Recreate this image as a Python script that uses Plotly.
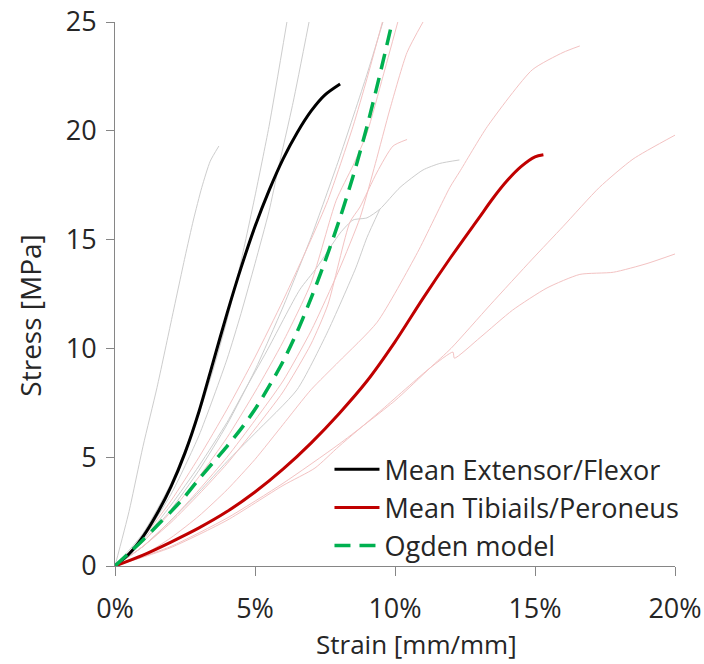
import plotly.graph_objects as go

# ---- Mean curves (strain in %, stress in MPa) ----
ext_strain = [0, 0.5, 1, 1.5, 2, 2.5, 3, 3.5, 4, 4.5, 5, 5.5, 6, 6.5, 7, 7.5, 8.04]
ext_stress = [0, 0.55, 1.35, 2.4, 3.65, 5.2, 7.1, 9.35, 11.6, 13.7, 15.6, 17.25, 18.7, 19.9, 20.9, 21.65, 22.15]

tib_strain = [0, 1, 2, 3, 4, 5, 6, 7, 8, 9, 10, 11, 12, 13, 13.5, 14, 14.5, 15, 15.3]
tib_stress = [0, 0.5, 1.1, 1.75, 2.5, 3.4, 4.45, 5.65, 7.0, 8.5, 10.3, 12.3, 14.2, 16.0, 16.9, 17.7, 18.35, 18.8, 18.9]

ogden_strain = [0, 0.5, 1, 1.5, 2, 2.5, 3, 3.5, 4, 4.5, 5, 5.5, 6, 6.5, 7, 7.5, 8, 8.5, 9, 9.5, 9.9]
ogden_stress = [0, 0.6, 1.2, 1.85, 2.5, 3.2, 4.0, 4.75, 5.5, 6.3, 7.2, 8.25, 9.4, 10.75, 12.3, 14.0, 15.85, 17.9, 20.2, 22.8, 25.0]

# ---- Individual specimens: Extensor/Flexor (grey) ----
g1_x = [0, 0.5, 1, 1.5, 2, 2.5, 2.8, 3.1, 3.4, 3.71]
g1_y = [0, 2.5, 5.5, 8.2, 11.2, 14.2, 15.9, 17.4, 18.6, 19.3]
g2_x = [0, 1, 2, 3, 3.5, 4, 4.5, 5, 5.5, 6.14]
g2_y = [0, 1.5, 3.8, 7.0, 9.0, 11.3, 14.0, 17.0, 20.2, 25.0]
g3_x = [0, 1, 2, 3, 4, 4.5, 5, 5.5, 5.82, 6.36, 6.93]
g3_y = [0, 1.3, 3.3, 6.0, 9.5, 11.6, 13.9, 16.3, 18.2, 21.3, 25.0]
g4_x = [0, 1, 2, 3, 4, 5, 6, 7, 8, 9, 9.57]
g4_y = [0, 1.1, 2.6, 4.4, 6.5, 9.0, 11.9, 15.1, 18.7, 22.6, 25.0]
g5_x = [0, 1, 2, 3, 4, 4.6, 5.43, 6.6, 7.2, 8.04, 8.5, 9.0, 9.46, 10.18, 11.0, 11.6, 12.3]
g5_y = [0, 1.2, 2.8, 4.6, 6.6, 8.0, 9.9, 12.7, 13.7, 15.3, 15.9, 16.0, 16.4, 17.4, 18.2, 18.5, 18.66]
g6_x = [0, 1, 2, 3, 4, 5, 6.5, 7.57, 8.6, 9.0, 9.46]
g6_y = [0, 0.9, 2.1, 3.4, 4.8, 6.1, 8.1, 10.7, 13.7, 15.1, 16.4]

# ---- Individual specimens: Tibialis/Peroneus (pink) ----
pa_x = [0, 2, 4, 6, 8, 10, 11.25, 12, 13.4, 14.9, 16, 17.3, 18.5, 20]
pa_y = [0, 0.9, 2.2, 3.8, 5.6, 7.6, 9.1, 10.0, 12.0, 14.1, 15.6, 17.4, 18.7, 19.8]
pb_x = [0, 2, 4, 6, 7.14, 8, 9.46, 11.25, 12.07, 12.12, 13.04, 14.2, 15.43, 16.6, 17.8, 19, 20]
pb_y = [0, 0.85, 2.1, 3.7, 4.5, 5.5, 7.1, 9.1, 9.83, 9.55, 10.5, 11.76, 12.78, 13.4, 13.5, 13.9, 14.34]
pc_x = [0, 1, 2, 3, 4, 5, 6, 7, 8, 9.36, 10.8, 11.96, 12.3, 13.3, 14.9, 16, 16.6]
pc_y = [0, 0.5, 1.3, 2.3, 3.5, 4.9, 6.5, 8.1, 9.4, 11.2, 14.4, 17.4, 18.1, 20.2, 22.8, 23.6, 23.9]
pd_x = [0, 1, 2, 3, 4, 5, 6, 7, 8, 8.75, 9.3, 9.82, 10.43, 11.0]
pd_y = [0, 0.9, 2.1, 3.5, 5.0, 6.7, 8.5, 10.8, 13.6, 16.0, 18.5, 21.0, 23.6, 25.0]
pe_x = [0, 1, 2, 3, 4, 5, 6, 7, 7.9, 8.5, 9.0, 9.57, 10.1]
pe_y = [0, 1.1, 2.5, 4.1, 5.9, 8.0, 10.3, 13.0, 16.8, 18.4, 19.9, 22.5, 25.0]
pf_x = [0, 1, 2, 3, 4, 5, 6, 7, 7.6, 8.39, 8.75, 9.36, 9.93, 10.43]
pf_y = [0, 0.9, 2.0, 3.3, 4.7, 6.3, 8.0, 10.2, 12.0, 15.8, 16.5, 18.1, 19.3, 19.6]
pg_x = [0, 1, 2, 3, 4, 5, 6, 7, 7.6, 8.5, 9.0, 9.55]
pg_y = [0, 1.3, 3.0, 5.0, 7.2, 9.6, 12.2, 15.0, 16.8, 20.2, 22.4, 25.0]

grey_specimens = [(g1_x, g1_y), (g2_x, g2_y), (g3_x, g3_y), (g4_x, g4_y), (g5_x, g5_y), (g6_x, g6_y)]
pink_specimens = [(pa_x, pa_y), (pb_x, pb_y), (pc_x, pc_y), (pd_x, pd_y), (pe_x, pe_y), (pf_x, pf_y), (pg_x, pg_y)]

x_ticks = [0, 5, 10, 15, 20]
y_ticks = [0, 5, 10, 15, 20, 25]

FONT = "Open Sans"
TXT = "#262626"
AXC = "#868686"
FS = 27

fig = go.Figure()
for xs, ys in grey_specimens:
    fig.add_trace(go.Scatter(x=xs, y=ys, mode="lines", showlegend=False, hoverinfo="skip",
                             line=dict(color="#cdcdcd", width=1, shape="spline", smoothing=0.6)))
for xs, ys in pink_specimens:
    fig.add_trace(go.Scatter(x=xs, y=ys, mode="lines", showlegend=False, hoverinfo="skip",
                             line=dict(color="#f3c2c2", width=1, shape="spline", smoothing=0.6)))

fig.add_trace(go.Scatter(x=ext_strain, y=ext_stress, mode="lines", name="Mean Extensor/Flexor",
                         line=dict(color="#000000", width=3, shape="spline", smoothing=0.8)))
fig.add_trace(go.Scatter(x=tib_strain, y=tib_stress, mode="lines", name="Mean Tibiails/Peroneus",
                         line=dict(color="#c00000", width=3, shape="spline", smoothing=0.8)))
fig.add_trace(go.Scatter(x=ogden_strain, y=ogden_stress, mode="lines", name="Ogden model",
                         line=dict(color="#00b050", width=3.5, dash="16px,9px", shape="spline", smoothing=0.8)))

fig.update_layout(
    width=704, height=664,
    margin=dict(l=115, r=29, t=22, b=98),
    paper_bgcolor="white", plot_bgcolor="white",
    font=dict(family=FONT, size=FS, color=TXT),
    legend=dict(x=0.383, y=0.222, xanchor="left", yanchor="top",
                bgcolor="rgba(0,0,0,0)", font=dict(family=FONT, size=FS, color=TXT),
                itemwidth=45, tracegroupgap=0),
    xaxis=dict(range=[0, 20], tickvals=x_ticks, ticktext=[f"{v}%" for v in x_ticks],
               showgrid=False, zeroline=False, showline=True, linecolor=AXC, linewidth=1,
               ticks="outside", ticklen=9, tickcolor=AXC, ticklabelstandoff=10,
               automargin=False, tickfont=dict(family=FONT, size=FS, color=TXT)),
    yaxis=dict(range=[0, 25], tickvals=y_ticks,
               showgrid=False, zeroline=False, showline=True, linecolor=AXC, linewidth=1,
               ticks="outside", ticklen=8, tickcolor=AXC, ticklabelstandoff=4,
               automargin=False, tickfont=dict(family=FONT, size=FS, color=TXT)),
    annotations=[
        dict(text="Strain [mm/mm]", xref="paper", yref="paper", x=0.539, y=-0.1434,
             xanchor="center", yanchor="middle", showarrow=False,
             font=dict(family=FONT, size=26, color=TXT)),
        dict(text="Stress [MPa]", xref="paper", yref="paper", x=-0.152, y=0.46,
             xanchor="center", yanchor="middle", showarrow=False, textangle=-90,
             font=dict(family=FONT, size=28, color=TXT)),
    ],
)

fig.write_html("out.html")
